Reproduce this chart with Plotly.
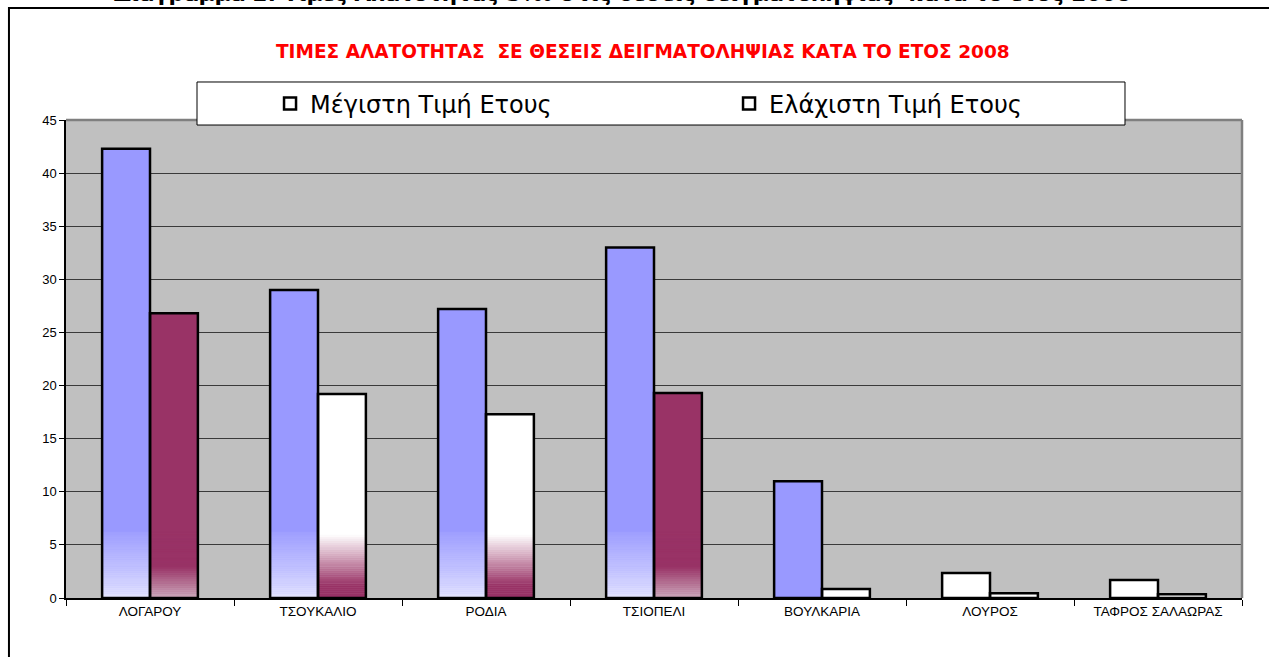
import numpy as np
import plotly.graph_objects as go

# ---------------- data ----------------
stations = ["ΛΟΓΑΡΟΥ", "ΤΣΟΥΚΑΛΙΟ", "ΡΟΔΙΑ", "ΤΣΙΟΠΕΛΙ", "ΒΟΥΛΚΑΡΙΑ", "ΛΟΥΡΟΣ", "ΤΑΦΡΟΣ ΣΑΛΑΩΡΑΣ"]
max_vals = [42.3, 29.0, 27.2, 33.0, 11.0, 2.35, 1.7]
min_vals = [26.8, 19.2, 17.3, 19.3, 0.85, 0.45, 0.35]
series_names = ["Μέγιστη Τιμή Ετους", "Ελάχιστη Τιμή Ετους"]
y_ticks = [0, 5, 10, 15, 20, 25, 30, 35, 40, 45]

# per-bar fill styles (as in the original chart)
max_styles = ["fade_blue", "fade_blue", "fade_blue", "fade_blue", "blue", "white", "white"]
min_styles = ["fade_maroon", "white_over_maroon", "white_over_maroon", "fade_maroon", "white", "white", "white"]

BLUE = np.array([153, 153, 255])
BLUE_LIGHT = np.array([232, 232, 255])
MAROON = np.array([153, 51, 102])
MAROON_LIGHT = np.array([206, 172, 190])
WHITE = np.array([255, 255, 255])


def rgb(c):
    c = np.clip(np.round(c), 0, 255).astype(int)
    return f"rgb({c[0]},{c[1]},{c[2]})"


def lerp(a, b, t):
    t = min(max(t, 0.0), 1.0)
    return a + (b - a) * t


def color_at(style, v):
    if style == "fade_blue":
        return rgb(lerp(BLUE_LIGHT, BLUE, (v / 7.0) ** 0.8))
    if style == "fade_maroon":
        return rgb(lerp(MAROON_LIGHT, MAROON, v / 3.0))
    if style == "white_over_maroon":
        return rgb(lerp(MAROON, WHITE, (v - 1.2) / 4.8))
    if style == "blue":
        return rgb(BLUE)
    if style == "maroon":
        return rgb(MAROON)
    return rgb(WHITE)


FONT = "Liberation Sans, Arial, sans-serif"
WIDE = "DejaVu Sans, Liberation Sans, sans-serif"
fig = go.Figure()

groups = [("max", max_vals, max_styles), ("min", min_vals, min_styles)]

# base fill (colour at top of each bar)
for name, vals, styles in groups:
    fig.add_trace(go.Bar(
        x=stations, y=vals, offsetgroup=name,
        marker=dict(color=[color_at(s, v) for s, v in zip(styles, vals)], line=dict(width=0)),
        showlegend=False, hoverinfo="skip"))

# gradient bands near the base (only inside bars with a gradient style)
step = 0.2
edges = np.arange(0, 6.2, step)
for name, vals, styles in groups:
    for lo in edges:
        hs = []
        for v, s in zip(vals, styles):
            h = min(step, v - lo)
            hs.append(h if (h > 0 and s.startswith(("fade", "white_over"))) else None)
        cols = [color_at(s, lo + step / 2) for s in styles]
        fig.add_trace(go.Bar(
            x=stations, y=hs, base=[lo] * len(vals), offsetgroup=name,
            marker=dict(color=cols, line=dict(width=0.6, color=cols)),
            showlegend=False, hoverinfo="skip"))

# outlines + legend entries
for (name, vals, styles), label in zip(groups, series_names):
    fig.add_trace(go.Bar(
        x=stations, y=vals, offsetgroup=name, name=label,
        marker=dict(color="rgba(0,0,0,0)", line=dict(color="black", width=2.5)),
        showlegend=True))

fig.update_layout(
    width=1269, height=657,
    margin=dict(l=66, r=27, t=120, b=59),
    paper_bgcolor="white", plot_bgcolor="#C0C0C0",
    barmode="group", bargap=0.43, bargroupgap=0,
    font=dict(family=FONT, color="black", size=12),
    showlegend=True,
    legend=dict(orientation="h", x=0.1735, xanchor="left", y=1.0335, yanchor="middle",
                bgcolor="rgba(0,0,0,0)", borderwidth=0, entrywidth=414,
                font=dict(size=24, family=WIDE), traceorder="normal"),
    xaxis=dict(showline=True, linecolor="black", linewidth=1.5, ticks="outside",
               tickson="boundaries", ticklen=6, tickcolor="black",
               tickfont=dict(size=13.5), showgrid=False),
    yaxis=dict(range=[0, 45], tickvals=y_ticks, showgrid=True, gridcolor="#3a3a3a",
               gridwidth=1, showline=True, linecolor="black", linewidth=1.5,
               ticks="outside", ticklen=5, tickcolor="black", zeroline=False,
               tickfont=dict(size=13)),
    shapes=[
        # outer chart border (right and bottom edges fall outside the page)
        dict(type="rect", xref="paper", yref="paper", x0=-0.0485, x1=1.04, y0=-0.3, y1=1.2343,
             line=dict(color="black", width=2), fillcolor="rgba(0,0,0,0)", layer="below"),
        # plot area top/right edges
        dict(type="line", xref="paper", yref="paper", x0=0, x1=1, y0=1, y1=1,
             line=dict(color="#7f7f7f", width=2.5), layer="above"),
        dict(type="line", xref="paper", yref="paper", x0=1, x1=1, y0=0, y1=1,
             line=dict(color="#7f7f7f", width=2.5), layer="above"),
        # legend box
        dict(type="rect", xref="paper", yref="paper", x0=0.1114, x1=0.9005, y0=0.9895, y1=1.0795,
             line=dict(color="black", width=1), fillcolor="white", layer="above"),
    ],
    annotations=[
        dict(text="<b>ΤΙΜΕΣ ΑΛΑΤΟΤΗΤΑΣ  ΣΕ ΘΕΣΕΙΣ ΔΕΙΓΜΑΤΟΛΗΨΙΑΣ ΚΑΤΑ ΤΟ ΕΤΟΣ 2008</b>",
             xref="paper", yref="paper", x=(643 - 66) / 1176, y=1 + (120 - 52) / 478,
             xanchor="center", yanchor="middle", showarrow=False,
             font=dict(size=18.5, color="#FF0000", family=WIDE)),
        dict(text="<b>Διάγραμμα 2: Τιμές Αλατότητας S‰ στις θέσεις δειγματοληψίας  κατά το έτος 2008</b>",
             xref="paper", yref="paper", x=(622 - 66) / 1176, y=1 + (120 + 6) / 478,
             xanchor="center", yanchor="middle", showarrow=False,
             font=dict(size=21.5, color="black", family=WIDE)),
    ],
)

fig.write_html("out.html", config={"displayModeBar": False},
               post_script="document.body.style.margin='0px';document.body.style.overflow='hidden';")
